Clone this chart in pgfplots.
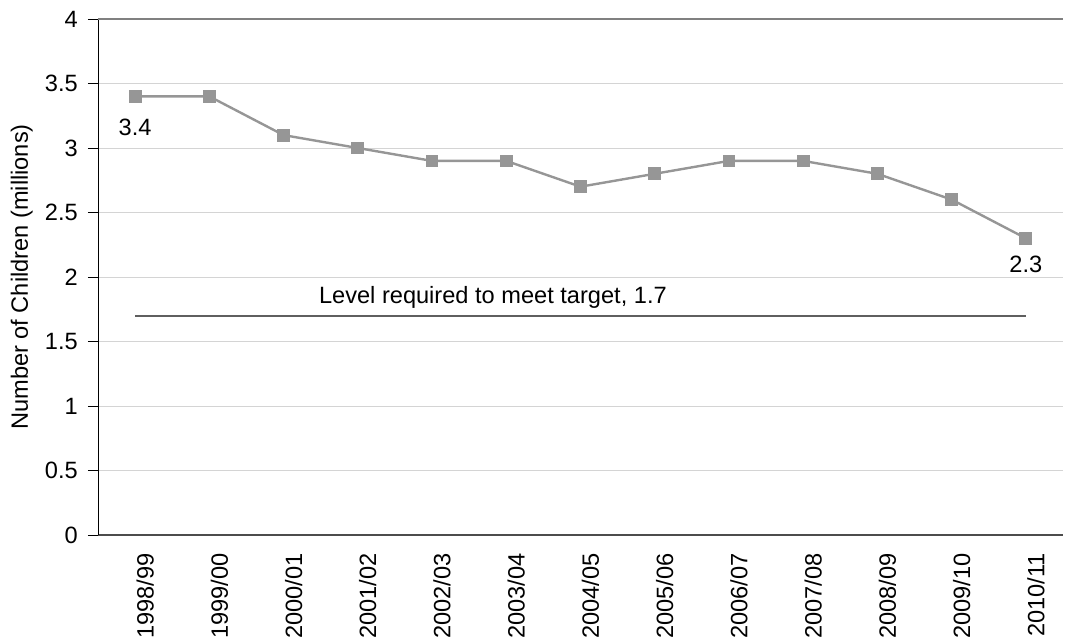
\documentclass[border=0pt]{standalone}
\usepackage{fontspec}
\setmainfont{Liberation Sans}
\usepackage{pgfplots}
\pgfplotsset{compat=1.18}
\definecolor{series}{HTML}{969696}
\definecolor{target}{HTML}{5F5F5F}
\definecolor{gridc}{HTML}{D4D4D4}
\newcommand{\chartfont}{\fontsize{11.8}{14}\selectfont}
\begin{document}
\chartfont
\begin{tikzpicture}
\begin{axis}[
  scale only axis,
  width=482.5pt, height=258pt,
  xmin=-0.5, xmax=12.5,
  ymin=0, ymax=4,
  ytick={0,0.5,...,4},
  xtick={0,...,12},
  xticklabels={1998/99,1999/00,2000/01,2001/02,2002/03,2003/04,2004/05,2005/06,2006/07,2007/08,2008/09,2009/10,2010/11},
  minor xtick={-0.5,0.5,...,12.5},
  xtick style={draw=none},
  minor x tick style={black, line width=0.5pt},
  minor tick length=4pt,
  major tick length=5pt,
  tick align=outside,
  ytick style={black, line width=0.5pt},
  axis x line*=bottom,
  axis y line*=left,
  x axis line style={draw=black!70, line width=1pt},
  y axis line style={draw=black, line width=0.5pt},
  ymajorgrids,
  grid style={gridc, line width=0.5pt},
  /pgf/number format/assume math mode=true,
  yticklabel style={font=\chartfont, xshift=-1pt},
  xticklabel style={font=\chartfont, rotate=90, anchor=east, yshift=-5pt},
  ylabel={Number of Children (millions)},
  ylabel style={font=\chartfont, at={(axis description cs:-0.079,0.5)}, anchor=center},
  clip=false,
]
\addplot[target, line width=0.8pt] coordinates {(0,1.7) (12,1.7)};
\addplot[series, line width=1.2pt, mark=square*, mark size=2.6pt, mark options={fill=series, draw=series}]
  coordinates {
  (0,3.4) (1,3.4) (2,3.1) (3,3.0) (4,2.9) (5,2.9) (6,2.7)
  (7,2.8) (8,2.9) (9,2.9) (10,2.8) (11,2.6) (12,2.3)
};
\draw[black!50, line width=0.7pt] (rel axis cs:0,1) -- (rel axis cs:1,1);
\node[anchor=center] at (axis cs:4.82,1.845) {Level required to meet target, 1.7};
\node[anchor=center] at (axis cs:0,3.16) {3.4};
\node[anchor=center] at (axis cs:12,2.10) {2.3};
\end{axis}
\pgfresetboundingbox
\path ([xshift=-49pt,yshift=-53.5pt]current axis.south west) rectangle ([xshift=1pt,yshift=9.5pt]current axis.north east);
\end{tikzpicture}
\end{document}
